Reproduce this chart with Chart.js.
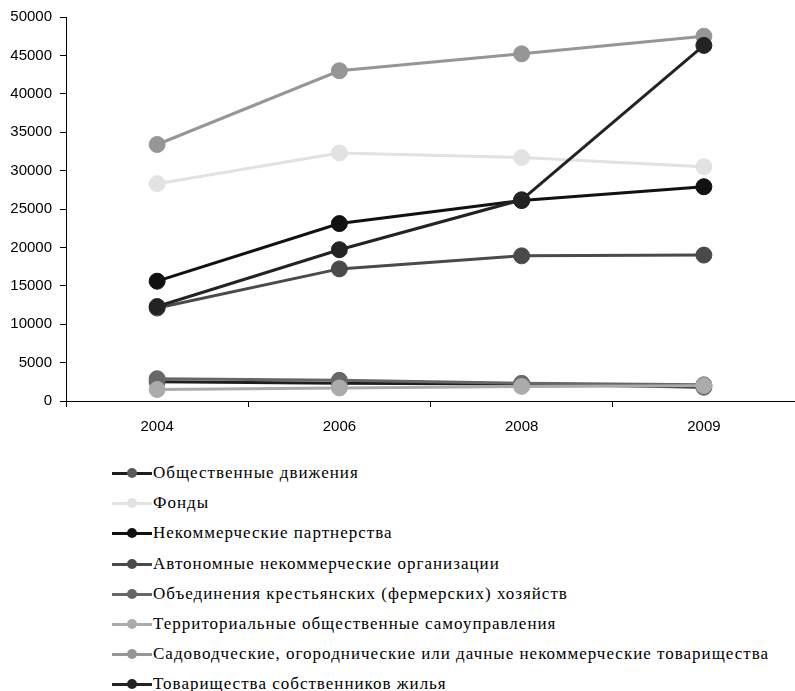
<!DOCTYPE html>
<html>
<head>
<meta charset="utf-8">
<script src="https://cdn.jsdelivr.net/npm/chart.js@4/dist/chart.umd.min.js"></script>
<style>
  html, body { margin: 0; padding: 0; background: #fff; }
  #wrap { position: relative; width: 795px; height: 691px; overflow: hidden; }
  #cv { position: absolute; left: 0; top: 0; }
  #legend { position: absolute; left: 112px; top: 458px; font-family: "Liberation Serif", "Times New Roman", serif; font-size: 17px; letter-spacing: 1.0px; color: #000; }
  .item { height: 30.2px; display: flex; align-items: center; white-space: nowrap; }
  .mk { position: relative; width: 40px; height: 12px; margin-right: 1px; flex: none; }
  .mk .ln { position: absolute; left: 0; right: 0; top: 5px; height: 3px; }
  .mk .dt { position: absolute; left: 15px; top: 1px; width: 10px; height: 10px; border-radius: 50%; }
</style>
</head>
<body>
<div id="wrap">
  <canvas id="cv" width="795" height="450" style="width:795px;height:450px"></canvas>
  <div id="legend"></div>
</div>
<script>
const categories = ['2004', '2006', '2008', '2009'];
const seriesNames = [
  'Общественные движения',
  'Фонды',
  'Некоммерческие партнерства',
  'Автономные некоммерческие организации',
  'Объединения крестьянских (фермерских) хозяйств',
  'Территориальные общественные самоуправления',
  'Садоводческие, огороднические или дачные некоммерческие товарищества',
  'Товарищества собственников жилья'
];
const obshDvizh = [2500, 2300, 2200, 1800];
const fondy = [28300, 32300, 31700, 30500];
const nekomPart = [15600, 23100, 26100, 27900];
const avtonom = [12100, 17200, 18900, 19000];
const obedKrest = [2900, 2700, 2300, 2100];
const territ = [1500, 1700, 1900, 2000];
const sadovod = [33400, 43000, 45200, 47500];
const tsj = [12300, 19700, 26200, 46300];
const yTicks = [0, 5000, 10000, 15000, 20000, 25000, 30000, 35000, 40000, 45000, 50000];

const seriesValues = [obshDvizh, fondy, nekomPart, avtonom, obedKrest, territ, sadovod, tsj];
const lineColors = ['#1e1e1e', '#e2e2e2', '#111111', '#4a4a4a', '#676767', '#ababab', '#969696', '#232323'];
const pointColors = ['#5a5a5a', '#e2e2e2', '#111111', '#4a4a4a', '#676767', '#ababab', '#969696', '#232323'];

const n = seriesNames.length;
const datasets = seriesNames.map((name, i) => ({
  label: name,
  data: seriesValues[i],
  borderColor: lineColors[i],
  backgroundColor: pointColors[i],
  pointBackgroundColor: pointColors[i],
  pointBorderColor: pointColors[i],
  borderWidth: 3,
  pointRadius: 8,
  pointBorderWidth: 1,
  tension: 0,
  clip: false,
  order: n - 1 - i
}));

const tickFont = { family: '"Liberation Sans", Arial, sans-serif', size: 15 };

const chart = new Chart(document.getElementById('cv'), {
  type: 'line',
  data: { labels: categories, datasets },
  options: {
    responsive: false,
    animation: false,
    layout: { autoPadding: false, padding: { top: 14, right: 0, left: 0, bottom: 3 } },
    plugins: { legend: { display: false }, tooltip: { enabled: false } },
    scales: {
      x: {
        offset: true,
        afterFit: (s) => { s.paddingRight = 0; s.paddingLeft = 0; },
        grid: { display: true, offset: true, drawOnChartArea: false, drawTicks: true, tickLength: 6, color: '#000', tickColor: '#000' },
        border: { display: true, color: '#000', width: 1 },
        ticks: { color: '#000', font: tickFont, padding: 11, maxRotation: 0 }
      },
      y: {
        min: 0, max: 50000,
        afterBuildTicks: (s) => { s.ticks = yTicks.map(v => ({ value: v })); },
        afterFit: (s) => { s.width = 66; },
        grid: { display: true, drawOnChartArea: false, drawTicks: true, tickLength: 6, color: '#000', tickColor: '#000' },
        border: { display: true, color: '#000', width: 1 },
        ticks: { color: '#000', font: tickFont, padding: 8, callback: (v) => String(v) }
      }
    }
  }
});

const legend = document.getElementById('legend');
chart.data.datasets.forEach((ds) => {
  const item = document.createElement('div');
  item.className = 'item';
  const mk = document.createElement('span');
  mk.className = 'mk';
  const ln = document.createElement('span');
  ln.className = 'ln';
  ln.style.background = ds.borderColor;
  const dt = document.createElement('span');
  dt.className = 'dt';
  dt.style.background = ds.pointBackgroundColor;
  mk.appendChild(ln); mk.appendChild(dt);
  const tx = document.createElement('span');
  tx.textContent = ds.label;
  item.appendChild(mk); item.appendChild(tx);
  legend.appendChild(item);
});
</script>
</body>
</html>
